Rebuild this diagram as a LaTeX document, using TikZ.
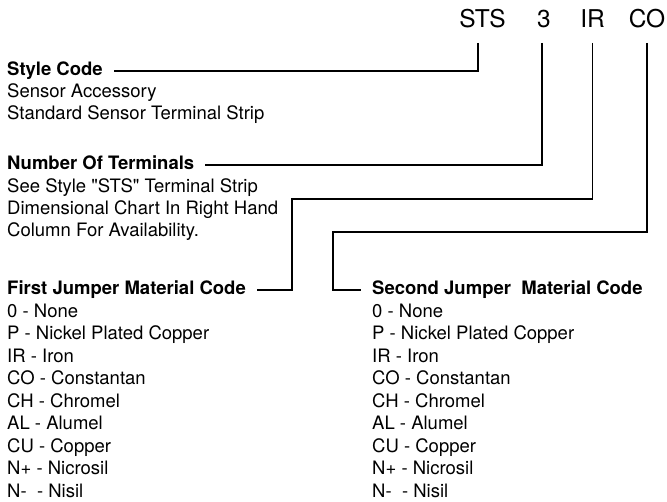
\documentclass[tikz,border=0pt]{standalone}
\usepackage{fontspec}
\setmainfont{TeX Gyre Heros}[Ligatures=TeXOff]
\usepackage{tikz}
\tikzstyle{code}=[font=\fontsize{24.5}{28}\selectfont, inner sep=0pt, text depth=0pt, outer ysep=15pt, anchor=base]
\tikzstyle{heading}=[font=\fontsize{18.5}{22.5}\selectfont\bfseries, inner sep=0pt, text height=13.3pt, text depth=3.8pt, anchor=base west]
\tikzstyle{item}=[font=\fontsize{18.5}{22.5}\selectfont, inner sep=0pt, anchor=base west]
\tikzstyle{lead} = [draw, line width=1.6pt, shorten >=11pt]

\begin{document}
\begin{tikzpicture}[x=1pt, y=-1pt]

    \useasboundingbox (0,0) rectangle (667,502);

    % part number
    \node[code] (sts) at (482.5,28) {STS};
    \node[code] (num) at (544,28) {3};
    \node[code] (ir)  at (592.5,28) {IR};
    \node[code] (co)  at (647,28) {CO};

    % style code
    \node[heading] (stylecode) at (7,76) {Style Code};
    \node[item] (sensor) at (7,98) {Sensor Accessory};
    \node[item] (strip) at (7,120) {Standard Sensor Terminal Strip};

    % number of terminals
    \node[heading] (numterm) at (7,170) {Number Of Terminals};
    \node[item] (see) at (7,193) {See Style "STS" Terminal Strip};
    \node[item] (chart) at (7,215) {Dimensional Chart In Right Hand};
    \node[item] (avail) at (7,237) {Column For Availability.};

    % jumper material codes
    \node[heading] (firstjump) at (7,295) {First Jumper Material Code};
    \node[heading] (secondjump) at (372,295) {Second Jumper\ \ Material Code};

    \foreach \x/\side in {7/fj, 372/sj}
      \foreach \code/\mat [count=\i] in {0/None, P/Nickel Plated Copper, IR/Iron, CO/Constantan,
          CH/Chromel, AL/Alumel, CU/Copper, N+/Nicrosil, {N-\ }/Nisil}
        \node[item] (\side\i) at (\x, 295+22.5*\i) {\code\ - \mat};

    % leaders
    \coordinate (irbend) at (292,199);
    \coordinate (cobend) at (333,232);

    \draw[lead] ([xshift=-4.5pt]sts.south) |- (stylecode.east);
    \draw[lead] ([xshift=-2pt]num.south) |- (numterm.east);
    \draw[lead] (ir.south) |- (irbend) |- (firstjump.east);
    \draw[lead] (co.south) |- (cobend) |- (secondjump.west);

\end{tikzpicture}
\end{document}
